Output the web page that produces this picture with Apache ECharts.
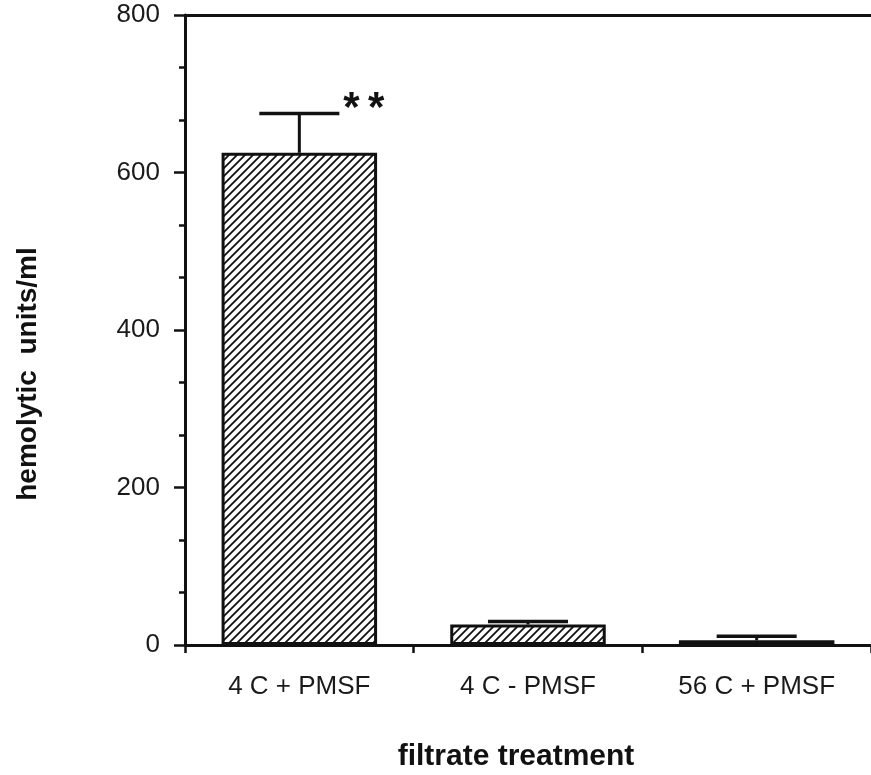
<!DOCTYPE html>
<html>
<head>
<meta charset="utf-8">
<script src="https://cdn.jsdelivr.net/npm/echarts@6/dist/echarts.min.js"></script>
<style>
  html, body { margin: 0; padding: 0; background: #fff; }
  #chart { width: 871px; height: 775px; }
</style>
</head>
<body>
<div id="chart"></div>
<script>
// data
var categories = ["4 C + PMSF", "4 C - PMSF", "56 C + PMSF"];
var means = [625, 26, 6];
var errors = [50, 4, 5];
var marks = ["**", "", ""];
var yMin = 0, yMax = 800, yStep = 200;

// diagonal hatch fill ("////")
var hatch = document.createElement("canvas");
hatch.width = 8;
hatch.height = 8;
var ctx = hatch.getContext("2d");
ctx.fillStyle = "#fff";
ctx.fillRect(0, 0, 8, 8);
ctx.strokeStyle = "#111";
ctx.lineWidth = 1.8;
ctx.beginPath();
ctx.moveTo(0, 8); ctx.lineTo(8, 0);
ctx.moveTo(-2, 2); ctx.lineTo(2, -2);
ctx.moveTo(6, 10); ctx.lineTo(10, 6);
ctx.stroke();

var ink = "#111";
var font = "Liberation Sans";

var errData = categories.map(function (c, i) {
  return [i, means[i], means[i] + errors[i]];
});

var chart = echarts.init(document.getElementById("chart"));

var option = {
  backgroundColor: "#fff",
  animation: false,
  grid: { left: 185, right: 0, top: 15, bottom: 130 },
  xAxis: [
    {
      type: "category",
      data: categories,
      position: "bottom",
      axisLine: { lineStyle: { color: ink, width: 3 } },
      axisTick: { show: true, length: 8, lineStyle: { color: ink, width: 2.5 } },
      axisLabel: { color: "#1a1a1a", fontSize: 26, fontFamily: font, margin: 29 },
    },
    {
      type: "category",
      data: categories,
      position: "top",
      axisLine: { show: true, lineStyle: { color: ink, width: 3 } },
      axisTick: { show: false },
      axisLabel: { show: false },
    },
  ],
  yAxis: {
    type: "value",
    min: yMin,
    max: yMax,
    interval: yStep,
    axisLine: { show: true, lineStyle: { color: ink, width: 3 } },
    axisTick: { show: true, length: 11, lineStyle: { color: ink, width: 2.5 } },
    minorTick: { show: true, splitNumber: 3, length: 6, lineStyle: { color: ink, width: 2.5 } },
    splitLine: { show: false },
    axisLabel: { color: "#1a1a1a", fontSize: 26, fontFamily: font, margin: 25 },
  },
  graphic: [
    {
      type: "text",
      x: 28,
      y: 374,
      rotation: Math.PI / 2,
      style: {
        text: "hemolytic  units/ml",
        font: "bold 28px " + font,
        fill: ink,
        align: "center",
        verticalAlign: "middle",
      },
    },
    {
      type: "text",
      x: 516,
      y: 757,
      style: {
        text: "filtrate treatment",
        font: "bold 30px " + font,
        fill: ink,
        align: "center",
        verticalAlign: "middle",
      },
    },
  ],
  series: [
    {
      type: "bar",
      data: means,
      barWidth: "68%",
      itemStyle: {
        color: { image: hatch, repeat: "repeat" },
        borderColor: ink,
        borderWidth: 3,
      },
    },
    {
      type: "custom",
      z: 3,
      data: errData,
      renderItem: function (params, api) {
        var i = params.dataIndex;
        var base = api.coord([api.value(0), api.value(1)]);
        var top = api.coord([api.value(0), api.value(2)]);
        var half = api.size([1, 0])[0] * 0.175;
        var children = [
          {
            type: "line",
            shape: { x1: base[0], y1: base[1], x2: top[0], y2: top[1] },
            style: { stroke: ink, lineWidth: 3 },
          },
          {
            type: "line",
            shape: { x1: top[0] - half, y1: top[1], x2: top[0] + half, y2: top[1] },
            style: { stroke: ink, lineWidth: 3.5 },
          },
        ];
        if (marks[i]) {
          children.push({
            type: "text",
            x: top[0] + half + 4,
            y: top[1] - 4,
            style: {
              text: marks[i].split("").join("\u2009"),
              font: "bold 42px " + font,
              fill: ink,
              align: "left",
              verticalAlign: "middle",
            },
          });
        }
        return { type: "group", children: children };
      },
    },
  ],
};

chart.setOption(option);
</script>
</body>
</html>
